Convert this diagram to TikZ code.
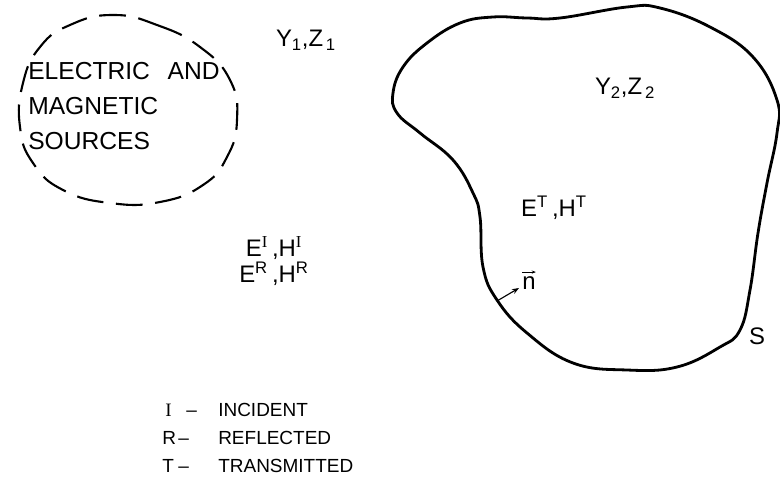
\documentclass[tikz,border=0pt]{standalone}
\usepackage{fontspec}
\setmainfont{Liberation Sans}
\newfontfamily\serifI{Liberation Serif}
\usetikzlibrary{arrows.meta}
\tikzset{
  lbl/.style={inner sep=0pt,font=\fontsize{17}{20}\selectfont},
  src/.style={inner sep=0pt,anchor=base west,font=\fontsize{17.5}{20}\selectfont},
  leg/.style={inner sep=0pt,anchor=base west,font=\fontsize{13.5}{16}\selectfont}
}
\begin{document}
\begin{tikzpicture}[x=0.025cm,y=-0.025cm]
\useasboundingbox (0,0) rectangle (780,492);
% sources region
\draw[line width=1.5pt,dash pattern=on 19pt off 9pt] plot[smooth cycle,tension=0.8] coordinates {(113,15) (157,25) (200,47) (230,80) (237,120) (227,157) (203,185) (160,202) (110,203) (63,190) (33,163) (20,127) (23,83) (40,47) (70,25)};
\node[src] (src1) at (28,80) {ELECTRIC\ \ \,AND};
\node[src] (src2) at (28,115) {MAGNETIC};
\node[src] (src3) at (28,149) {SOURCES};

% medium 1
\node[lbl] (med1) at (306,40) {Y\textsubscript{1},Z\textsubscript{\,1}};
\node[lbl,anchor=base] (fldI) at (274,256) {E\textsuperscript{\serifI I}\,,H\textsuperscript{\serifI I}};
\node[lbl,anchor=base] (fldR) at (274,282) {E\textsuperscript{R}\,,H\textsuperscript{R}};

% surface S
\draw[line width=2pt] plot[smooth cycle,tension=0.7] coordinates {(560,18) (627,7) (660,8) (710,27) (753,57) (777,100) (777,133) (767,183) (758,233) (750,290) (740,330) (720,347) (677,367) (627,370) (573,363) (527,333) (497,300) (483,267) (480,217) (473,193) (453,160) (420,133) (397,113) (393,93) (403,67) (427,43) (460,23) (493,17) (527,18)};
\node[lbl] (med2) at (625,88) {Y\textsubscript{2},Z\textsubscript{\,2}};
\node[lbl] (fldT) at (554,208) {E\textsuperscript{T}\,,H\textsuperscript{T}};
\node[lbl] (surf) at (757,336) {S};

% normal
\coordinate (foot) at (497,301);
\coordinate (tip) at (519,288);
\node[lbl] (nvec) at (529,283) {n};
\draw[line width=0.6pt,-{Stealth[length=3pt]}] ([yshift=3pt]nvec.north west) -- ([yshift=3pt]nvec.north east);
\draw[line width=0.8pt,-{Stealth[length=5pt]}] (foot) -- (tip);

% legend
\node[leg] (kI) at (165,416) {\serifI I};
\node[leg] (kR) at (162,444) {R};
\node[leg] (kT) at (162,472) {T};
\node[leg] (dI) at (186,416) {--};
\node[leg] (dR) at (178,444) {--};
\node[leg] (dT) at (178,472) {--};
\node[leg] (wI) at (218,416) {INCIDENT};
\node[leg] (wR) at (218,444) {REFLECTED};
\node[leg] (wT) at (218,472) {TRANSMITTED};
\end{tikzpicture}
\end{document}
